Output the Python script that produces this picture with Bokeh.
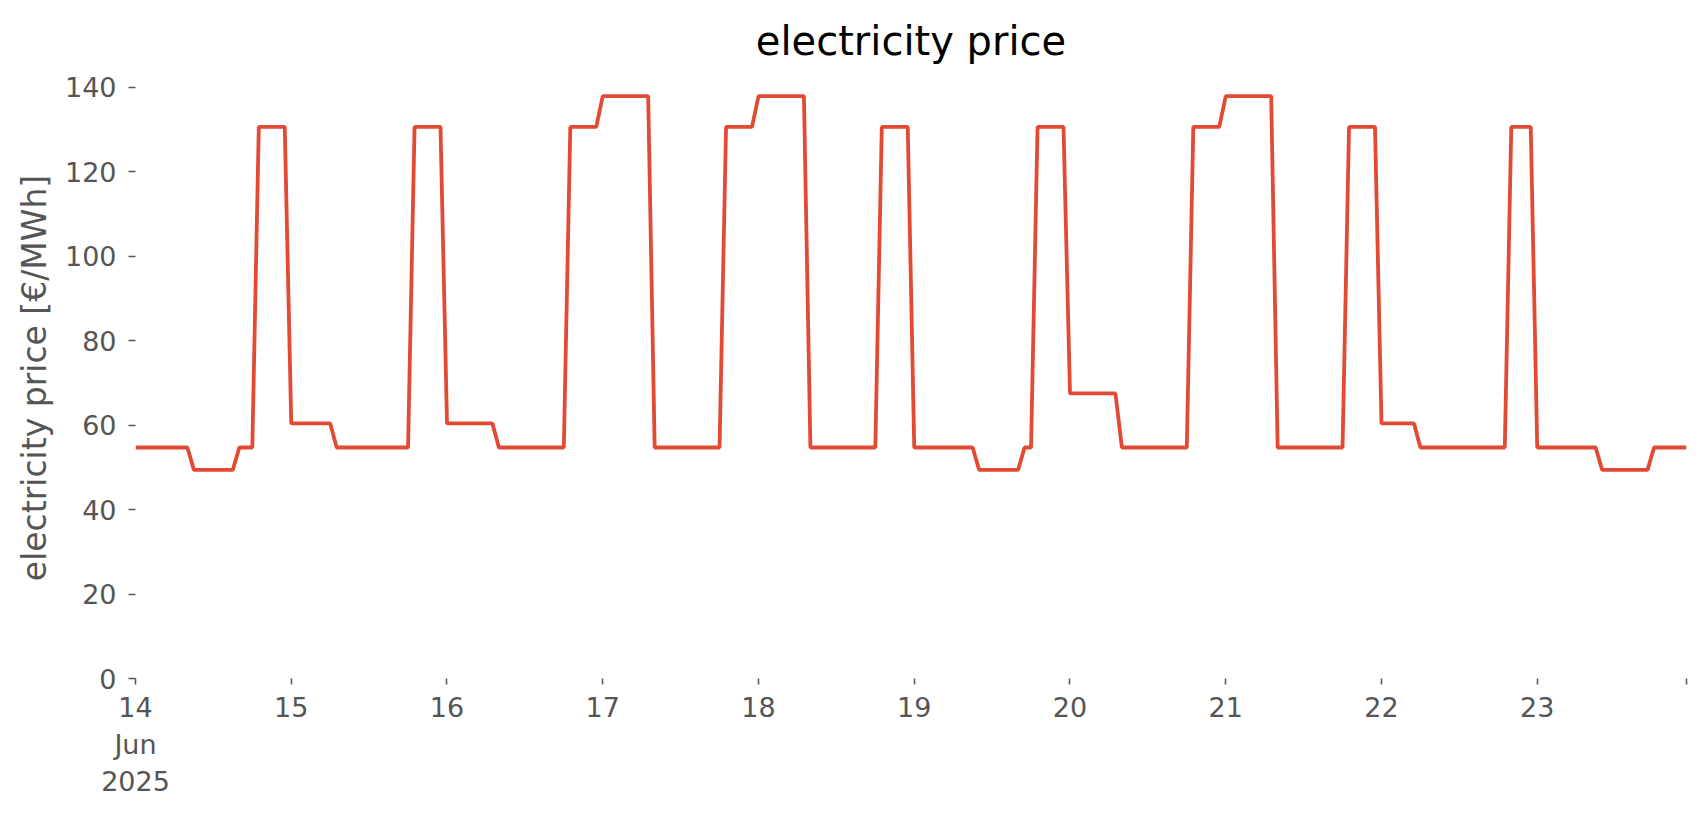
import pandas as pd
from bokeh.plotting import figure
from bokeh.models import Range1d, FixedTicker, CustomJSTickFormatter, ColumnDataSource
from bokeh.embed import file_html
from bokeh.resources import INLINE

# ---- data (hourly electricity price, €/MWh) ----
start = "2025-06-14 00:00"
jun14 = [54.7] * 9 + [49.4] * 7 + [54.7] * 3 + [130.6] * 5
jun15 = [60.4] * 7 + [54.7] * 12 + [130.6] * 5
jun16 = [60.4] * 8 + [54.7] * 11 + [130.6] * 5
jun17 = [137.9] * 8 + [54.7] * 11 + [130.6] * 5
jun18 = [137.9] * 8 + [54.7] * 11 + [130.6] * 5
jun19 = [54.7] * 10 + [49.4] * 7 + [54.7] * 2 + [130.6] * 5
jun20 = [67.5] * 8 + [54.7] * 11 + [130.6] * 5
jun21 = [137.9] * 8 + [54.7] * 11 + [130.6] * 5
jun22 = [60.4] * 6 + [54.7] * 14 + [130.6] * 4
jun23 = [54.7] * 10 + [49.4] * 8 + [54.7] * 6

price = jun14 + jun15 + jun16 + jun17 + jun18 + jun19 + jun20 + jun21 + jun22 + jun23
times = pd.date_range(start, periods=len(price), freq="h")

day_ticks = ["2025-06-14", "2025-06-15", "2025-06-16", "2025-06-17", "2025-06-18",
             "2025-06-19", "2025-06-20", "2025-06-21", "2025-06-22", "2025-06-23",
             "2025-06-23 23:00"]
day_labels = ["14\nJun\n2025", "15", "16", "17", "18", "19", "20", "21", "22", "23", ""]
y_ticks = [0, 20, 40, 60, 80, 100, 120, 140]
y_max = 142.3

title_text = "electricity price"
y_label = "electricity price [€/MWh]"

# ---- figure ----
def ms(t):
    return int(pd.Timestamp(t).value // 10**6)

tick_ms = [ms(t) for t in day_ticks]

src = ColumnDataSource(dict(t=times, price=price))

p = figure(width=1690, height=799, x_axis_type="datetime",
           output_backend="svg", toolbar_location=None,
           min_border_left=135, min_border_right=4,
           min_border_top=77, min_border_bottom=117,
           x_range=Range1d(times[0], times[-1]),
           y_range=Range1d(0, y_max),
           background_fill_color="white", border_fill_color="white")
p.outline_line_color = None
p.grid.visible = False

p.line("t", "price", source=src, line_color="#E24A33", line_width=3.8)

p.title.text = title_text
p.title.align = "center"
p.title.text_font = "DejaVu Sans"
p.title.text_font_size = "40px"
p.title.text_font_style = "normal"
p.title.text_color = "#000000"
p.title.standoff = 28

xa = p.xaxis[0]
xa.ticker = FixedTicker(ticks=tick_ms)
xa.formatter = CustomJSTickFormatter(args=dict(tvals=tick_ms, tlabels=day_labels), code="""
    for (let i = 0; i < tvals.length; i++) {
        if (Math.abs(tvals[i] - tick) < 1) { return tlabels[i]; }
    }
    return '';
""")
xa.axis_line_color = None
xa.major_tick_in = 0
xa.major_tick_out = 6
xa.major_tick_line_color = "#555555"
xa.major_tick_line_width = 1.5
xa.minor_tick_line_color = None
xa.major_label_text_font = "DejaVu Sans"
xa.major_label_text_font_size = "27px"
xa.major_label_text_color = "#555555"
xa.major_label_standoff = 7

ya = p.yaxis[0]
ya.ticker = FixedTicker(ticks=y_ticks)
ya.axis_line_color = None
ya.major_tick_in = 0
ya.major_tick_out = 7
ya.major_tick_line_color = "#555555"
ya.major_tick_line_width = 1.5
ya.minor_tick_line_color = None
ya.major_label_text_font = "DejaVu Sans"
ya.major_label_text_font_size = "27px"
ya.major_label_text_color = "#555555"
ya.major_label_standoff = 12
ya.axis_label = y_label
ya.axis_label_text_font = "DejaVu Sans"
ya.axis_label_text_font_size = "33px"
ya.axis_label_text_font_style = "normal"
ya.axis_label_text_color = "#555555"
ya.axis_label_standoff = 8

open("out.html", "w").write(file_html(p, INLINE))
